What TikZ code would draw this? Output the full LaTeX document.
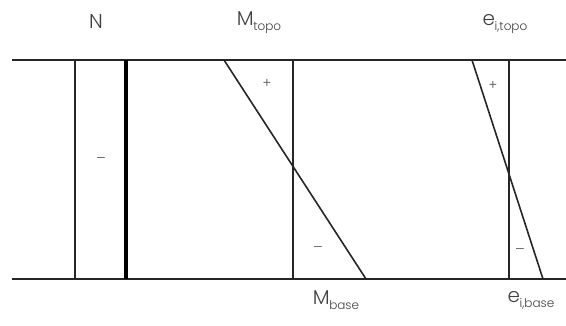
\documentclass[tikz,border=0pt]{standalone}
\usepackage{fontspec}
\setmainfont{Liberation Sans}
\newfontfamily\geofont{Poppins Light}
\tikzset{
  thin line/.style={line width=1.6pt, black!85},
  thick line/.style={line width=3.2pt, black},
  lbl/.style={font=\geofont\fontsize{20}{22}\selectfont, text=black!75, inner sep=0pt},
  sgn/.style={font=\fontsize{14}{16}\selectfont, text=black!60, inner sep=0pt}
}
\newcommand{\mysub}[1]{\kern-0.5pt\raisebox{-0.45ex}{\fontsize{12}{12}\selectfont #1}}
\begin{document}
\begin{tikzpicture}[x=1pt,y=-1pt]
\useasboundingbox (0,0) rectangle (566,325);
% horizontal boundaries
\coordinate (tl) at (12,60);
\coordinate (tr) at (566,60);
\coordinate (bl) at (12,279);
\coordinate (br) at (566,279);
\draw[thin line] (tl) -- (tr);
\draw[thin line] (bl) -- (br);
% N diagram
\coordinate (n1t) at (75,60); \coordinate (n1b) at (75,279);
\coordinate (n2t) at (126,60); \coordinate (n2b) at (126,279);
\draw[thin line] (n1t) -- (n1b);
\draw[thick line] (n2t) -- (n2b);
% M diagram
\coordinate (mvt) at (293,60); \coordinate (mvb) at (293,279);
\coordinate (mdt) at (224,60); \coordinate (mdb) at (366,279);
\draw[thin line] (mvt) -- (mvb);
\draw[thin line] (mdt) -- (mdb);
% e diagram
\coordinate (evt) at (509,60); \coordinate (evb) at (509,279);
\coordinate (edt) at (472,60); \coordinate (edb) at (543,279);
\draw[thin line] (evt) -- (evb);
\draw[thin line] (edt) -- (edb);
% labels
\node[lbl] (lN) at (96,22) {N};
\node[lbl] (lMt) at (259,23) {M\mysub{topo}};
\node[lbl] (let) at (505,24) {e\mysub{i,topo}};
\node[lbl] (lMb) at (336,300) {M\mysub{base}};
\node[lbl] (leb) at (531,300) {e\mysub{i,base}};
% signs
\node[sgn] (sN) at (101,159) {--};
\node[sgn] (sMp) at (267,83) {+};
\node[sgn] (sMm) at (318,248) {--};
\node[sgn] (sEp) at (493,85) {+};
\node[sgn] (sEm) at (520,250) {--};
\end{tikzpicture}
\end{document}
